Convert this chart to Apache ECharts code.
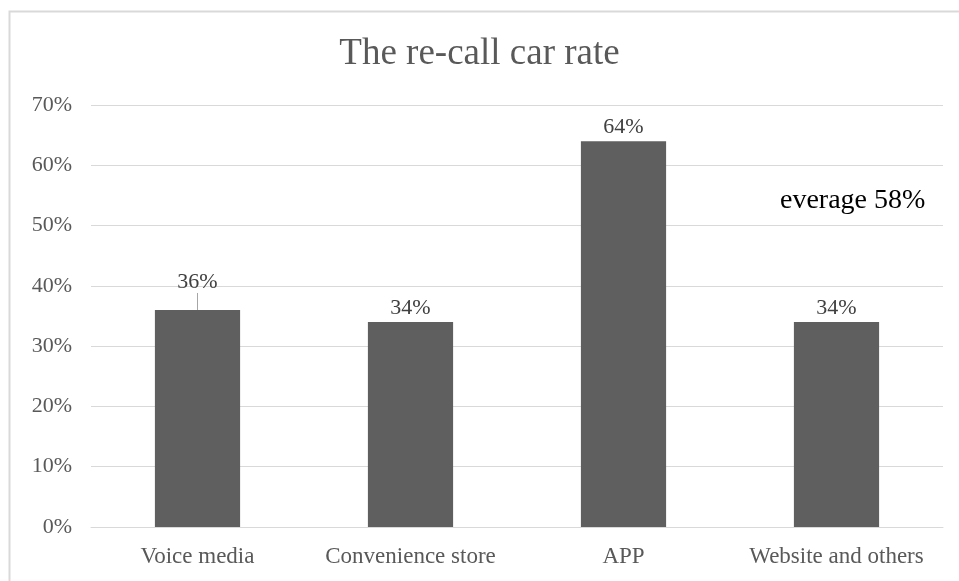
<!DOCTYPE html>
<html lang="en">
<head>
    <meta charset="UTF-8">
    <title>The re-call car rate</title>
    <script type="text/javascript" src="https://cdn.jsdelivr.net/npm/echarts@6/dist/echarts.min.js"></script>
    <style>
        html, body { margin: 0; padding: 0; background: #fff; }
    </style>
</head>
<body>
<div id="main" style="width: 959px; height: 581px;"></div>
<script type="text/javascript">
    var categories = ['Voice media', 'Convenience store', 'APP', 'Website and others'];
    var rates = [36, 34, 64, 34];
    var yTicks = [0, 10, 20, 30, 40, 50, 60, 70];
    var averageNote = 'everage 58%';

    var serif = '"Liberation Serif", "DejaVu Serif", serif';
    var myChart = echarts.init(document.getElementById('main'));

    // only the first label is lifted and gets a leader line
    var barData = rates.map(function (v, i) {
        return { value: v, labelLine: { show: i === 0 } };
    });

    var option = {
        animation: false,
        title: {
            text: 'The re-call car rate',
            left: 'center',
            top: 31,
            textStyle: {
                color: '#595959',
                fontSize: 37,
                fontWeight: 'normal',
                fontFamily: serif
            }
        },
        grid: {
            left: 91,
            right: 16,
            top: 105,
            bottom: 54
        },
        xAxis: {
            type: 'category',
            data: categories,
            axisLine: { lineStyle: { color: '#d9d9d9', width: 1 } },
            axisTick: { show: false },
            axisLabel: {
                interval: 0,
                color: '#595959',
                fontSize: 23,
                fontFamily: serif,
                margin: 18
            }
        },
        yAxis: {
            type: 'value',
            min: yTicks[0],
            max: yTicks[yTicks.length - 1],
            interval: 10,
            axisLine: { show: false },
            axisTick: { show: false },
            splitLine: { lineStyle: { color: '#d9d9d9', width: 1 } },
            axisLabel: {
                color: '#595959',
                fontSize: 22,
                fontFamily: serif,
                margin: 19,
                formatter: '{value}%'
            }
        },
        series: [{
            type: 'bar',
            data: barData,
            barWidth: '40%',
            itemStyle: { color: '#5f5f5f' },
            label: {
                show: true,
                position: 'top',
                distance: 3,
                color: '#404040',
                fontSize: 22,
                fontFamily: serif,
                formatter: '{c}%'
            },
            labelLayout: function (params) {
                return params.dataIndex === 0 ? { dy: -14 } : {};
            },
            labelLine: {
                show: true,
                lineStyle: { color: '#a6a6a6', width: 1 }
            }
        }],
        graphic: [
            {
                type: 'rect',
                left: 7,
                top: 9,
                shape: { width: 1000, height: 1000 },
                style: { fill: 'none', stroke: '#d9d9d9', lineWidth: 2 },
                silent: true
            },
            {
                type: 'text',
                left: 780,
                top: 187,
                style: {
                    text: averageNote,
                    fill: '#000',
                    fontSize: 28,
                    fontFamily: serif
                }
            }
        ]
    };

    option && myChart.setOption(option);
</script>
</body>
</html>
